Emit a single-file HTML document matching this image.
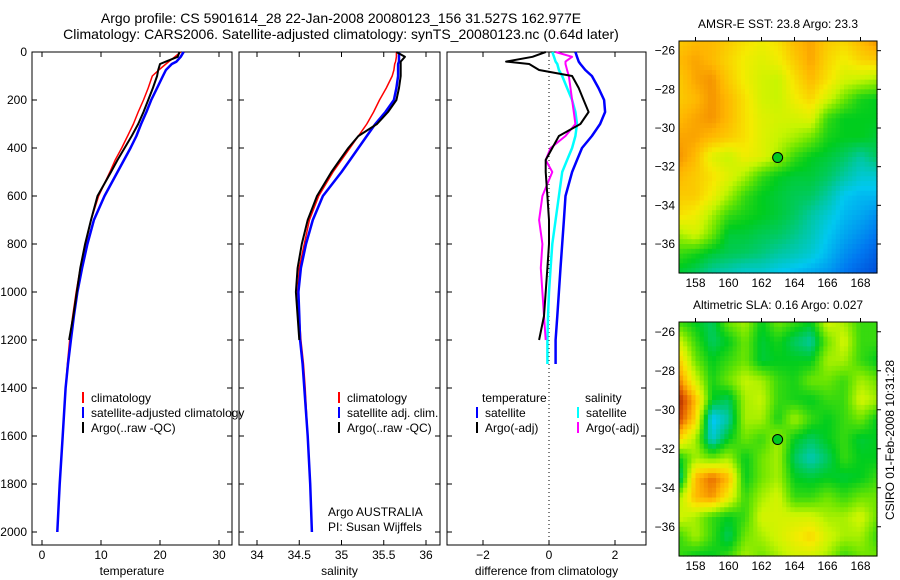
<!DOCTYPE html>
<html><head><meta charset="utf-8"><style>
body{margin:0;background:#fff;}
svg{display:block;font-family:"Liberation Sans",sans-serif;}
text{font-size:12px;fill:#000;}
</style></head><body>
<svg id="fig" width="900" height="580" viewBox="0 0 900 580">
<text x="341" y="23" text-anchor="middle" style="font-size:14px">Argo profile: CS 5901614_28 22-Jan-2008 20080123_156 31.527S 162.977E</text>
<text x="341" y="39" text-anchor="middle" style="font-size:14px">Climatology: CARS2006. Satellite-adjusted climatology: synTS_20080123.nc (0.64d later)</text>
<g id="g"></g>
</svg>
<script>
// ---- profile data ----
const depths = [0,20,40,50,75,100,150,200,250,300,350,400,450,500,600,700,800,900,1000,1100,1200,1300,1400,1600,1800,2000];
const tempClim = [23.5,22.5,21.5,21,19.8,18.7,18,17.2,16.3,15.5,14.5,13.5,12.4,11.5,9.6,8.3,7.4,6.5,5.8,5.2,4.7,4.3,4.0,3.5,3.0,2.6];
const tempSat  = [24,23.5,22.8,22,21,20.5,19.5,18.5,17.7,16.8,16,15,13.9,12.8,10.6,8.8,7.7,6.8,6.0,5.4,4.9,4.4,4.0,3.5,3.0,2.6];
const tempArgo = [23.3,23,21,20,19.7,19.5,18.8,18,17.2,16.3,15.2,14,12.8,11.7,9.4,8.3,7.3,6.5,5.9,5.3,4.6];
const salClim = [35.65,35.65,35.64,35.63,35.62,35.6,35.53,35.45,35.38,35.3,35.2,35.1,35.0,34.9,34.73,34.62,34.56,34.5,34.48,34.5,34.52,34.55,34.57,34.6,34.63,34.65];
const salSat  = [35.68,35.68,35.68,35.67,35.67,35.67,35.65,35.62,35.52,35.4,35.3,35.2,35.1,35.0,34.78,34.66,34.58,34.52,34.49,34.5,34.51,34.54,34.56,34.6,34.63,34.65];
const salArgo = [35.65,35.75,35.7,35.7,35.7,35.7,35.68,35.65,35.55,35.42,35.2,35.08,34.98,34.88,34.71,34.6,34.53,34.48,34.46,34.48,34.5];
const dTempSat  = [0.8,0.85,0.9,0.95,1.1,1.3,1.5,1.67,1.7,1.55,1.3,1.0,0.85,0.7,0.5,0.45,0.4,0.35,0.3,0.25,0.2,0.2];
const dTempArgo = [-0.1,-0.5,-1.3,-0.6,-0.3,0.7,0.9,1.05,1.2,0.95,0.3,0.1,-0.1,-0.1,-0.05,0,0,-0.05,-0.1,-0.15,-0.3];
const dSalSat   = [0.1,0.15,0.2,0.25,0.3,0.4,0.55,0.7,0.8,0.85,0.8,0.7,0.55,0.4,0.3,0.2,0.1,0.05,0,-0.03,-0.05,-0.05];
const dSalArgo  = [0.2,0.7,0.5,0.5,0.55,0.6,0.65,0.7,0.75,0.8,0.5,0.05,-0.1,0.1,-0.2,-0.3,-0.2,-0.25,-0.2,-0.15,-0.1];
const depthTicks = [0,200,400,600,800,1000,1200,1400,1600,1800,2000];
const tempTicks = [0,10,20,30];
const salTicks = [34,34.5,35,35.5,36];
const diffTicks = [-2,0,2];
// ---- map data (coarse grids, rows lat -25.5..-37.5, cols lon 157..169) ----
const sstGrid = [
[0.72,0.75,0.75,0.72,0.68,0.65,0.68,0.75,0.78,0.72,0.7,0.75,0.8],
[0.75,0.78,0.75,0.7,0.65,0.62,0.65,0.72,0.78,0.7,0.65,0.7,0.72],
[0.72,0.78,0.8,0.72,0.65,0.6,0.58,0.68,0.75,0.68,0.6,0.58,0.55],
[0.72,0.75,0.8,0.75,0.68,0.6,0.58,0.65,0.7,0.6,0.5,0.42,0.4],
[0.75,0.78,0.8,0.75,0.68,0.62,0.6,0.6,0.62,0.45,0.4,0.4,0.4],
[0.78,0.78,0.75,0.72,0.68,0.62,0.58,0.55,0.5,0.42,0.4,0.4,0.38],
[0.8,0.75,0.62,0.58,0.65,0.62,0.55,0.45,0.4,0.38,0.35,0.3,0.35],
[0.75,0.72,0.68,0.62,0.55,0.45,0.4,0.38,0.38,0.35,0.3,0.25,0.25],
[0.72,0.72,0.65,0.55,0.45,0.4,0.38,0.36,0.35,0.3,0.22,0.2,0.2],
[0.68,0.65,0.55,0.45,0.42,0.4,0.38,0.35,0.3,0.25,0.2,0.18,0.15],
[0.55,0.6,0.5,0.38,0.38,0.36,0.35,0.32,0.28,0.22,0.18,0.15,0.12],
[0.45,0.42,0.38,0.36,0.35,0.33,0.3,0.28,0.25,0.2,0.15,0.12,0.08],
[0.38,0.35,0.3,0.28,0.25,0.25,0.22,0.2,0.18,0.16,0.12,0.08,0.05]];
const slaGrid = [
[0.45,0.4,0.35,0.5,0.55,0.4,0.5,0.45,0.4,0.6,0.55,0.45,0.45],
[0.6,0.45,0.35,0.4,0.5,0.38,0.42,0.35,0.3,0.5,0.6,0.45,0.45],
[0.72,0.5,0.4,0.45,0.5,0.38,0.4,0.4,0.4,0.55,0.55,0.45,0.4],
[0.82,0.6,0.42,0.5,0.58,0.55,0.45,0.42,0.5,0.5,0.45,0.55,0.5],
[0.95,0.75,0.4,0.35,0.55,0.58,0.45,0.42,0.4,0.45,0.45,0.6,0.55],
[0.9,0.7,0.2,0.3,0.55,0.55,0.42,0.55,0.45,0.4,0.45,0.5,0.4],
[0.7,0.55,0.25,0.4,0.5,0.45,0.55,0.4,0.35,0.4,0.45,0.38,0.4],
[0.4,0.55,0.5,0.55,0.4,0.5,0.55,0.35,0.28,0.35,0.45,0.4,0.4],
[0.3,0.75,0.85,0.75,0.4,0.5,0.55,0.4,0.38,0.4,0.38,0.4,0.45],
[0.55,0.75,0.8,0.65,0.45,0.55,0.6,0.45,0.45,0.5,0.45,0.5,0.5],
[0.6,0.55,0.45,0.4,0.45,0.6,0.6,0.6,0.6,0.55,0.55,0.6,0.5],
[0.45,0.55,0.45,0.35,0.5,0.55,0.6,0.65,0.7,0.6,0.55,0.55,0.45],
[0.45,0.4,0.4,0.45,0.55,0.5,0.55,0.6,0.6,0.55,0.45,0.5,0.5]];
const latTicks = [-26,-28,-30,-32,-34,-36];
const lonTicks = [158,160,162,164,166,168];
const argoLon = 162.977, argoLat = -31.527;

const NS="http://www.w3.org/2000/svg";
const G=document.getElementById('g');
function el(tag,attrs,parent){const e=document.createElementNS(NS,tag);for(const k in attrs)e.setAttribute(k,attrs[k]);(parent||G).appendChild(e);return e;}
function txt(x,y,s,anchor,name){const t=el('text',{x:x,y:y,'text-anchor':anchor||'start'});t.textContent=s;


return t;}

const Y0=52, YB=545;
const yD=d=>Y0+d*0.24;
function panel(x0,x1,xs,ticks,fmt,label,name,leftLabels){
  const g=el('g',{});
  
  
  el('rect',{x:x0,y:Y0,width:x1-x0,height:YB-Y0,fill:'none',stroke:'#000','stroke-width':1},g);
  ticks.forEach(v=>{const x=xs(v);
    el('line',{x1:x,x2:x,y1:Y0,y2:Y0+5,stroke:'#000'},g);
    el('line',{x1:x,x2:x,y1:YB,y2:YB-5,stroke:'#000'},g);
    txt(x,559,fmt(v),'middle','x-tick-label');});
  depthTicks.forEach(d=>{const y=yD(d);
    el('line',{x1:x0,x2:x0+5,y1:y,y2:y,stroke:'#000'},g);
    el('line',{x1:x1,x2:x1-5,y1:y,y2:y,stroke:'#000'},g);
    if(leftLabels) txt(x0-5,y+4,String(d),'end','y-tick-label');});
  txt((x0+x1)/2,575,label,'middle','x-axis-title');
  return g;
}
function line(xs,vals,col,w,name){
  let p='';vals.forEach((v,i)=>{p+=(i?'L':'M')+xs(v).toFixed(1)+','+yD(depths[i]).toFixed(1);});
  const e=el('path',{d:p,fill:'none',stroke:col,'stroke-width':w,'stroke-linejoin':'round'});
  
  
}
function legend(x,y,items){items.forEach((it,i)=>{el('line',{x1:x,x2:x,y1:y+i*15-10,y2:y+i*15+1,stroke:it[1],'stroke-width':2});
  txt(x+8,y+i*15,it[0],'start','legend-entry');});}

// temperature
const xT=v=>42+5.9*v;
panel(32,232,xT,tempTicks,String,'temperature','temperature-panel',true);
line(xT,tempClim,'#f00',1.5,'temp-climatology-line');
line(xT,tempSat,'#00f',2.5,'temp-satellite-line');
line(xT,tempArgo,'#000',2,'temp-argo-line');
legend(83,402,[['climatology','#f00'],['satellite-adjusted climatology','#00f'],['Argo(..raw -QC)','#000']]);
// salinity
const xS=v=>257+84.5*(v-34);
panel(239,440,xS,salTicks,String,'salinity','salinity-panel',false);
line(xS,salClim,'#f00',1.5,'sal-climatology-line');
line(xS,salSat,'#00f',2.5,'sal-satellite-line');
line(xS,salArgo,'#000',2,'sal-argo-line');
legend(339,402,[['climatology','#f00'],['satellite adj. clim.','#00f'],['Argo(..raw -QC)','#000']]);
txt(328,516,'Argo AUSTRALIA','start','operator-label');
txt(328,531,'PI: Susan Wijffels','start','pi-label');
// difference
const xDf=v=>549+33*v;
panel(447,646,xDf,diffTicks,v=>v<0?'\u2212'+(-v):String(v),'difference from climatology','difference-panel',false);
el('line',{x1:xDf(0),x2:xDf(0),y1:Y0,y2:YB,stroke:'#000','stroke-dasharray':'1,3'});
line(xDf,dTempSat,'#00f',2.5,'diff-temp-satellite-line');
line(xDf,dSalSat,'#0ff',2.5,'diff-sal-satellite-line');
line(xDf,dSalArgo,'#f0f',2,'diff-sal-argo-line');
line(xDf,dTempArgo,'#000',2,'diff-temp-argo-line');
txt(482,402,'temperature','start','legend-header-temperature');
txt(585,402,'salinity','start','legend-header-salinity');
legend(477,417,[['satellite','#00f'],['Argo(-adj)','#000']]);
legend(578,417,[['satellite','#0ff'],['Argo(-adj)','#f0f']]);

// colormap
const stops=[[0,[0,50,200]],[0.12,[0,120,240]],[0.22,[0,200,240]],[0.3,[0,200,160]],[0.4,[0,205,30]],[0.5,[110,230,0]],[0.58,[200,245,0]],[0.66,[245,235,0]],[0.76,[255,180,0]],[0.86,[230,100,0]],[1,[150,10,0]]];
function cmap(v){v=Math.max(0,Math.min(1,v));for(let i=1;i<stops.length;i++){if(v<=stops[i][0]){const a=stops[i-1],b=stops[i],t=(v-a[0])/(b[0]-a[0]);
 return 'rgb('+a[1].map((c,k)=>Math.round(c+(b[1][k]-c)*t)).join(',')+')';}}return 'rgb(150,10,0)';}
function bil(grid,r,c){const r0=Math.min(11,Math.floor(r)),c0=Math.min(11,Math.floor(c)),fr=r-r0,fc=c-c0;
 return grid[r0][c0]*(1-fr)*(1-fc)+grid[r0][c0+1]*(1-fr)*fc+grid[r0+1][c0]*fr*(1-fc)+grid[r0+1][c0+1]*fr*fc;}
function map(grid,top,bot,title,name){
  const L=679,R=877;
  const g=el('g',{});
  
  
  const xL=lon=>L+(lon-157)*(R-L)/12, yL=lat=>top+(-25.5-lat)*(bot-top)/12;
  const N=48;
  for(let i=0;i<N;i++)for(let j=0;j<N;j++){
    const r=(i+0.5)*12/N, c=(j+0.5)*12/N;
    const x=L+j*(R-L)/N, y=top+i*(bot-top)/N;
    el('rect',{x:x.toFixed(2),y:y.toFixed(2),width:((R-L)/N+0.6).toFixed(2),height:((bot-top)/N+0.6).toFixed(2),fill:cmap(bil(grid,r,c))},g);
  }
  el('rect',{x:L,y:top,width:R-L,height:bot-top,fill:'none',stroke:'#000'},g);
  latTicks.forEach(v=>{const y=yL(v);el('line',{x1:R,x2:R+4,y1:y,y2:y,stroke:'#000'},g);txt(L-4,y+4,'\u2212'+(-v),'end','lat-tick-label');});
  lonTicks.forEach(v=>{const x=xL(v);el('line',{x1:x,x2:x,y1:top,y2:top-4,stroke:'#000'},g);txt(x,bot+14,String(v),'middle','lon-tick-label');});
  const c=el('circle',{cx:xL(argoLon),cy:yL(argoLat),r:5,fill:'#00c820',stroke:'#000','stroke-width':1},g);
  
  
  txt((L+R)/2,top-13,title,'middle','map-title');
}
map(sstGrid,41,273,'AMSR-E SST: 23.8 Argo: 23.3','sst-map');
map(slaGrid,322,556,'Altimetric SLA: 0.16 Argo: 0.027','sla-map');
const st=txt(0,0,'CSIRO 01-Feb-2008 10:31:28','middle','timestamp-label');
st.setAttribute('transform','translate(894,440) rotate(-90)');
</script>
</body></html>
